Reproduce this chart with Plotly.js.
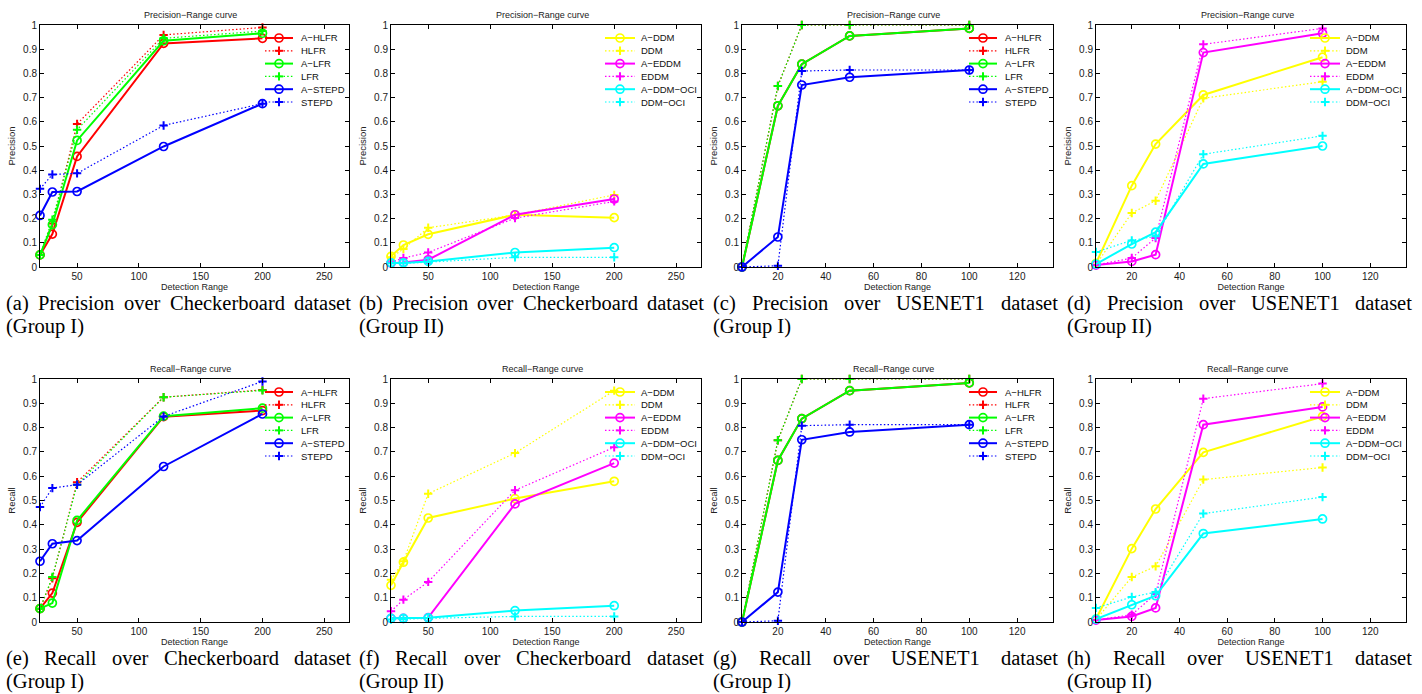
<!DOCTYPE html>
<html><head><meta charset="utf-8">
<script src="https://cdn.plot.ly/plotly-3.0.1.min.js"></script>
<style>html,body{margin:0;padding:0;background:#fff}#chart{width:1422px;height:694px}</style>
</head><body><div id="chart"></div>
<script>
// ---------------- DATA ----------------
const checkerboardRange = [20, 30, 50, 120, 200];
const usenetRange = [5, 20, 30, 50, 100];
const checkerboardTicks = [50, 100, 150, 200, 250];
const usenetTicks = [20, 40, 60, 80, 100, 120];

const groupINames = ['A−HLFR', 'HLFR', 'A−LFR', 'LFR', 'A−STEPD', 'STEPD'];
const groupIINames = ['A−DDM', 'DDM', 'A−EDDM', 'EDDM', 'A−DDM−OCI', 'DDM−OCI'];

// (a) Precision, Checkerboard, Group I
const precCkA_HLFR = [0.05, 0.136, 0.457, 0.924, 0.945];
const precCkHLFR = [0.05, 0.18, 0.591, 0.959, 0.99];
const precCkA_LFR = [0.05, 0.175, 0.523, 0.935, 0.966];
const precCkLFR = [0.05, 0.195, 0.567, 0.945, 0.975];
const precCkA_STEPD = [0.213, 0.31, 0.312, 0.498, 0.675];
const precCkSTEPD = [0.323, 0.382, 0.387, 0.585, 0.675];
// (b) Precision, Checkerboard, Group II
const precCkA_DDM = [0.044, 0.091, 0.135, 0.216, 0.204];
const precCkDDM = [0.04, 0.074, 0.162, 0.215, 0.298];
const precCkA_EDDM = [0.016, 0.019, 0.03, 0.216, 0.281];
const precCkEDDM = [0.02, 0.037, 0.06, 0.202, 0.271];
const precCkA_DDMOCI = [0.017, 0.017, 0.023, 0.06, 0.08];
const precCkDDMOCI = [0.015, 0.015, 0.02, 0.04, 0.04];
// (c) Precision, USENET1, Group I
const precUsA_HLFR = [0, 0.666, 0.838, 0.955, 0.986];
const precUsHLFR = [0, 0.748, 1.0, 1.0, 1.0];
const precUsA_LFR = [0, 0.666, 0.838, 0.955, 0.986];
const precUsLFR = [0, 0.748, 1.0, 1.0, 1.0];
const precUsA_STEPD = [0, 0.124, 0.752, 0.784, 0.814];
const precUsSTEPD = [0, 0.005, 0.81, 0.814, 0.814];
// (d) Precision, USENET1, Group II
const precUsA_DDM = [0.015, 0.336, 0.508, 0.711, 0.867];
const precUsDDM = [0.01, 0.223, 0.274, 0.697, 0.766];
const precUsA_EDDM = [0.008, 0.023, 0.051, 0.886, 0.966];
const precUsEDDM = [0.008, 0.037, 0.12, 0.92, 0.986];
const precUsA_DDMOCI = [0.012, 0.095, 0.144, 0.426, 0.5];
const precUsDDMOCI = [0.062, 0.11, 0.127, 0.466, 0.542];
// (e) Recall, Checkerboard, Group I
const recCkA_HLFR = [0.055, 0.119, 0.41, 0.845, 0.87];
const recCkHLFR = [0.055, 0.18, 0.575, 0.925, 0.955];
const recCkA_LFR = [0.055, 0.078, 0.418, 0.847, 0.88];
const recCkLFR = [0.055, 0.185, 0.565, 0.925, 0.953];
const recCkA_STEPD = [0.25, 0.322, 0.335, 0.64, 0.856];
const recCkSTEPD = [0.473, 0.551, 0.565, 0.846, 0.99];
// (f) Recall, Checkerboard, Group II
const recCkA_DDM = [0.151, 0.246, 0.428, 0.508, 0.579];
const recCkDDM = [0.174, 0.25, 0.528, 0.695, 0.952];
const recCkA_EDDM = [0.015, 0.015, 0.018, 0.486, 0.654];
const recCkEDDM = [0.044, 0.092, 0.165, 0.542, 0.719];
const recCkA_DDMOCI = [0.015, 0.015, 0.017, 0.047, 0.067];
const recCkDDMOCI = [0.01, 0.012, 0.015, 0.023, 0.023];
// (g) Recall, USENET1, Group I
const recUsA_HLFR = [0, 0.665, 0.837, 0.952, 0.984];
const recUsHLFR = [0, 0.748, 1.0, 1.0, 1.0];
const recUsA_LFR = [0, 0.665, 0.837, 0.952, 0.984];
const recUsLFR = [0, 0.748, 1.0, 1.0, 1.0];
const recUsA_STEPD = [0, 0.123, 0.75, 0.782, 0.812];
const recUsSTEPD = [0, 0.005, 0.808, 0.812, 0.812];
// (h) Recall, USENET1, Group II
const recUsA_DDM = [0.012, 0.302, 0.465, 0.698, 0.846];
const recUsDDM = [0.01, 0.185, 0.229, 0.586, 0.636];
const recUsA_EDDM = [0.008, 0.023, 0.058, 0.812, 0.885];
const recUsEDDM = [0.008, 0.03, 0.115, 0.919, 0.981];
const recUsA_DDMOCI = [0.012, 0.071, 0.108, 0.364, 0.424];
const recUsDDMOCI = [0.058, 0.103, 0.123, 0.446, 0.514];

const captionsLine1 = [
  '(a) Precision over Checkerboard dataset',
  '(b) Precision over Checkerboard dataset',
  '(c) Precision over USENET1 dataset',
  '(d) Precision over USENET1 dataset',
  '(e) Recall over Checkerboard dataset',
  '(f) Recall over Checkerboard dataset',
  '(g) Recall over USENET1 dataset',
  '(h) Recall over USENET1 dataset'
];
const captionsLine2 = ['(Group I)', '(Group II)', '(Group I)', '(Group II)',
                       '(Group I)', '(Group II)', '(Group I)', '(Group II)'];

// ---------------- STYLE / LAYOUT ----------------
const W = 1422, H = 694;
const groupIColors = ['#ff0000', '#ff0000', '#00ff00', '#00ff00', '#0000ff', '#0000ff'];
const groupIIColors = ['#ffff00', '#ffff00', '#ff00ff', '#ff00ff', '#00ffff', '#00ffff'];

const panels = [
  {x: checkerboardRange, ticks: checkerboardTicks, range: [20, 270], yt: 'Precision', t: 'Precision−Range curve', g: 1,
   s: [precCkA_HLFR, precCkHLFR, precCkA_LFR, precCkLFR, precCkA_STEPD, precCkSTEPD]},
  {x: checkerboardRange, ticks: checkerboardTicks, range: [20, 270], yt: 'Precision', t: 'Precision−Range curve', g: 2,
   s: [precCkA_DDM, precCkDDM, precCkA_EDDM, precCkEDDM, precCkA_DDMOCI, precCkDDMOCI]},
  {x: usenetRange, ticks: usenetTicks, range: [5, 135], yt: 'Precision', t: 'Precision−Range curve', g: 1,
   s: [precUsA_HLFR, precUsHLFR, precUsA_LFR, precUsLFR, precUsA_STEPD, precUsSTEPD]},
  {x: usenetRange, ticks: usenetTicks, range: [5, 135], yt: 'Precision', t: 'Precision−Range curve', g: 2,
   s: [precUsA_DDM, precUsDDM, precUsA_EDDM, precUsEDDM, precUsA_DDMOCI, precUsDDMOCI]},
  {x: checkerboardRange, ticks: checkerboardTicks, range: [20, 270], yt: 'Recall', t: 'Recall−Range curve', g: 1,
   s: [recCkA_HLFR, recCkHLFR, recCkA_LFR, recCkLFR, recCkA_STEPD, recCkSTEPD]},
  {x: checkerboardRange, ticks: checkerboardTicks, range: [20, 270], yt: 'Recall', t: 'Recall−Range curve', g: 2,
   s: [recCkA_DDM, recCkDDM, recCkA_EDDM, recCkEDDM, recCkA_DDMOCI, recCkDDMOCI]},
  {x: usenetRange, ticks: usenetTicks, range: [5, 135], yt: 'Recall', t: 'Recall−Range curve', g: 1,
   s: [recUsA_HLFR, recUsHLFR, recUsA_LFR, recUsLFR, recUsA_STEPD, recUsSTEPD]},
  {x: usenetRange, ticks: usenetTicks, range: [5, 135], yt: 'Recall', t: 'Recall−Range curve', g: 2,
   s: [recUsA_DDM, recUsDDM, recUsA_EDDM, recUsEDDM, recUsA_DDMOCI, recUsDDMOCI]}
];

const colsX = [[40, 349], [391, 701], [742, 1053], [1096, 1406]];
const rowsY = [[25, 267], [379, 622]];
const capCols = [[5, 350], [358, 703], [712, 1057], [1066, 1411]];
const capY = [[303.5, 326.5], [658, 681]];
const capFs = 20.5;

const SANS = 'Liberation Sans, Arial, Helvetica, sans-serif';
const SERIF = 'Liberation Serif, Times New Roman, serif';
const DOT = '1.5px,2.2px';

const traces = [], shapes = [], annotations = [];
const layout = {
  width: W, height: H, margin: {l: 0, r: 0, t: 0, b: 0},
  paper_bgcolor: '#fff', plot_bgcolor: '#fff', showlegend: false,
  font: {family: SANS, color: '#000'}
};

const px = v => v / W, py = v => 1 - v / H;
const ctx = document.createElement('canvas').getContext('2d');

panels.forEach((p, i) => {
  const k = i + 1;
  const col = i % 4, row = Math.floor(i / 4);
  const [L, R] = colsX[col], [T, B] = rowsY[row];
  const xa = 'xaxis' + (k === 1 ? '' : k), ya = 'yaxis' + (k === 1 ? '' : k);
  const xr = 'x' + (k === 1 ? '' : k), yr = 'y' + (k === 1 ? '' : k);
  const axCommon = {
    showline: true, linecolor: '#000', linewidth: 1, mirror: 'ticks',
    ticks: 'inside', ticklen: 4, tickwidth: 1, tickcolor: '#000',
    showgrid: false, zeroline: false, fixedrange: true,
    tickfont: {family: SANS, size: 10, color: '#1a1a1a'}
  };
  layout[xa] = Object.assign({}, axCommon, {
    domain: [px(L), px(R)], range: p.range, tickvals: p.ticks, anchor: yr,
    title: {text: 'Detection Range', font: {family: SANS, size: 9, color: '#222'}, standoff: 2}
  });
  layout[ya] = Object.assign({}, axCommon, {
    domain: [py(B), py(T)], range: [0, 1], tick0: 0, dtick: 0.1, anchor: xr,
    title: {text: p.yt, font: {family: SANS, size: 9.5, color: '#222'}, standoff: 5}
  });
  const names = p.g === 1 ? groupINames : groupIINames;
  const colors = p.g === 1 ? groupIColors : groupIIColors;
  p.s.forEach((ys, j) => {
    const solid = j % 2 === 0;
    traces.push({
      type: 'scatter', mode: 'lines+markers', x: p.x, y: ys, name: names[j],
      xaxis: xr, yaxis: yr, cliponaxis: false, hoverinfo: 'x+y+name',
      line: {color: colors[j], width: solid ? 2 : 1.2, dash: solid ? 'solid' : DOT},
      marker: solid
        ? {symbol: 'circle-open', size: 8, color: colors[j], line: {color: colors[j], width: 1.7}}
        : {symbol: 'cross-thin-open', size: 6, color: colors[j], line: {color: colors[j], width: 2}}
    });
  });
  // subplot title
  annotations.push({text: p.t, xref: 'paper', yref: 'paper', x: px((L + R) / 2 - 4), y: py(T - 10),
    xanchor: 'center', yanchor: 'middle', showarrow: false, font: {family: SANS, size: 9, color: '#222'}});
  // legend (transparent, top-right inside axes)
  const lineL = p.g === 1 ? R - 84 : R - 96, lineR = p.g === 1 ? R - 56 : R - 66;
  const textX = p.g === 1 ? R - 49 : R - 61;
  names.forEach((nm, j) => {
    const y = T + 13 + j * 12.8, c = colors[j], solid = j % 2 === 0;
    const cx = (lineL + lineR) / 2;
    shapes.push({type: 'line', xref: 'paper', yref: 'paper', x0: px(lineL), x1: px(lineR), y0: py(y), y1: py(y),
      line: {color: c, width: solid ? 2 : 1.2, dash: solid ? 'solid' : DOT}});
    if (solid) {
      shapes.push({type: 'circle', xref: 'paper', yref: 'paper', x0: px(cx - 4), x1: px(cx + 4), y0: py(y - 4), y1: py(y + 4),
        line: {color: c, width: 1.7}, fillcolor: 'rgba(0,0,0,0)'});
    } else {
      shapes.push({type: 'line', xref: 'paper', yref: 'paper', x0: px(cx - 4.2), x1: px(cx + 4.2), y0: py(y), y1: py(y), line: {color: c, width: 2}});
      shapes.push({type: 'line', xref: 'paper', yref: 'paper', x0: px(cx), x1: px(cx), y0: py(y - 4.2), y1: py(y + 4.2), line: {color: c, width: 2}});
    }
    annotations.push({text: nm, xref: 'paper', yref: 'paper', x: px(textX), y: py(y), xanchor: 'left', yanchor: 'middle',
      showarrow: false, borderpad: 0, font: {family: SANS, size: 9.5, color: '#111'}});
  });
  // caption: justified first line, left-aligned second line
  const [cl, cr] = capCols[col];
  const [y1, y2] = capY[row];
  ctx.font = capFs + 'px "Liberation Serif"';
  const words = captionsLine1[i].split(' ');
  const ws = words.map(w => ctx.measureText(w).width);
  const tot = ws.reduce((a, b) => a + b, 0);
  const gap = (cr - cl - tot) / (words.length - 1);
  let xx = cl;
  words.forEach((w, j) => {
    annotations.push({text: w, xref: 'paper', yref: 'paper', x: px(xx), y: py(y1), xanchor: 'left', yanchor: 'middle',
      showarrow: false, borderpad: 0, font: {family: SERIF, size: capFs, color: '#000'}});
    xx += ws[j] + gap;
  });
  annotations.push({text: captionsLine2[i], xref: 'paper', yref: 'paper', x: px(cl), y: py(y2), xanchor: 'left', yanchor: 'middle',
    showarrow: false, borderpad: 0, font: {family: SERIF, size: capFs, color: '#000'}});
});

layout.shapes = shapes;
layout.annotations = annotations;
Plotly.newPlot('chart', traces, layout, {displayModeBar: false, staticPlot: true});
</script>
</body></html>
